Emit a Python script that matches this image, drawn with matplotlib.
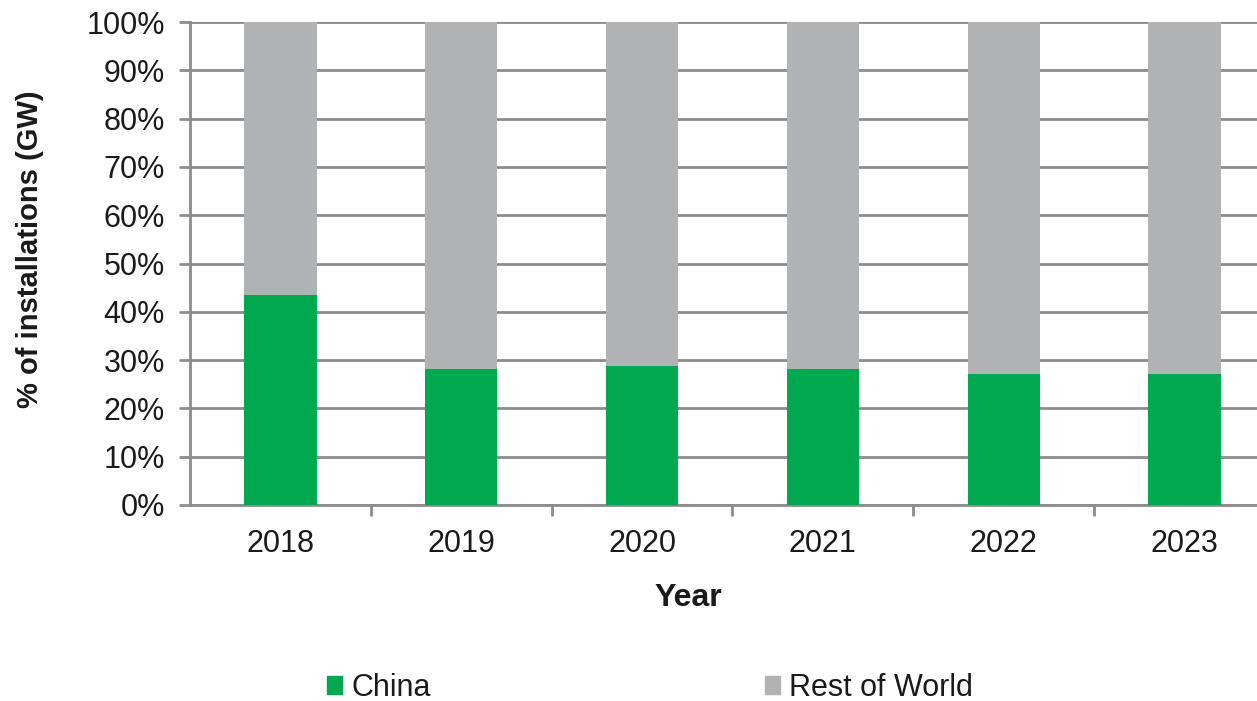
import matplotlib
matplotlib.use('Agg')
import matplotlib.pyplot as plt
from matplotlib.patches import Patch

plt.rcParams['font.family'] = ['Liberation Sans', 'DejaVu Sans']

years = ['2018', '2019', '2020', '2021', '2022', '2023']
china = [43.5, 28.2, 28.8, 28.2, 27.1, 27.1]
rest_of_world = [100 - v for v in china]

green = '#00a84f'
grey = '#b1b2b4'
line_col = '#8c8c8c'

fig = plt.figure(figsize=(12.57, 7.01), dpi=100)
ax = fig.add_axes([190 / 1257, 1 - 505 / 701, 1085 / 1257, 483 / 701])

x = list(range(len(years)))
ax.bar(x, china, width=0.4, color=green, zorder=3)
ax.bar(x, rest_of_world, bottom=china, width=0.4, color=grey, zorder=3)

ax.set_xlim(-0.5, 5.5)
ax.set_ylim(0, 100)
ax.set_yticks(range(0, 101, 10))
ax.set_yticklabels([f'{v}%' for v in range(0, 101, 10)], fontsize=22, color='#1a1a1a')
ax.yaxis.grid(True, color=line_col, linewidth=2, zorder=0)

ax.set_xticks(x)
ax.set_xticklabels(years, fontsize=22, color='#1a1a1a')
ax.set_xticks([i + 0.5 for i in range(len(years) - 1)], minor=True)
ax.tick_params(axis='x', which='major', length=0, pad=17)
ax.tick_params(axis='x', which='minor', length=8, width=2, color=line_col)
ax.tick_params(axis='y', length=8, width=2, color=line_col, pad=10)

for s in ['top', 'right']:
    ax.spines[s].set_visible(False)
for s in ['left', 'bottom']:
    ax.spines[s].set_color(line_col)
    ax.spines[s].set_linewidth(2)

ax.set_xlabel('Year', fontsize=23, fontweight='bold', va='center', color='#1a1a1a')
ax.xaxis.set_label_coords(0.459, -0.1925)
ax.set_ylabel('% of installations (GW)', fontsize=21, fontweight='bold', va='center', color='#1a1a1a')
ax.yaxis.set_label_coords(-0.1475, 0.53)

leg_y = 1 - 688 / 701
for patch_col, name, x_left in [(green, 'China', 327), (grey, 'Rest of World', 765)]:
    leg = fig.legend(handles=[Patch(color=patch_col, label=name)], loc='center left',
                     bbox_to_anchor=(x_left / 1257, leg_y), frameon=False, fontsize=22,
                     handlelength=0.5, handleheight=0.5, handletextpad=0.3,
                     borderpad=0, borderaxespad=0, labelcolor='#1a1a1a')

fig.savefig('out.png', dpi=100)
